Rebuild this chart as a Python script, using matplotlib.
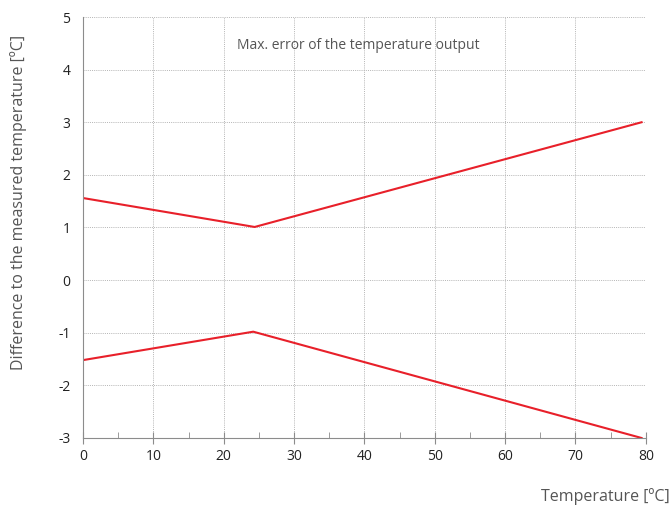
import matplotlib.pyplot as plt
from matplotlib.ticker import MultipleLocator

plt.rcParams['font.family'] = ['Open Sans', 'DejaVu Sans']
plt.rcParams['axes.unicode_minus'] = False

# upper / lower error limit
upper_x = [0, 24.4, 79.4]
upper_y = [1.56, 1.01, 3.0]
lower_x = [0, 24.2, 79.4]
lower_y = [-1.52, -0.98, -3.0]

fig = plt.figure(figsize=(6.72, 5.09), dpi=100)
ax = fig.add_axes([0.1235, 0.1395, 0.8375, 0.8271])

ax.plot(upper_x, upper_y, color='#e8202a', lw=1.5)
ax.plot(lower_x, lower_y, color='#e8202a', lw=1.5)

ax.set_xlim(0, 80)
ax.set_ylim(-3, 5)
ax.xaxis.set_major_locator(MultipleLocator(10))
ax.xaxis.set_minor_locator(MultipleLocator(5))
ax.yaxis.set_major_locator(MultipleLocator(1))

ax.grid(True, which='major', color='#b4b4b4', ls=(0, (1, 1.2)), lw=0.7)
for s in ['top', 'right']:
    ax.spines[s].set_visible(False)
for s in ['left', 'bottom']:
    ax.spines[s].set_color('#8c8c8c')

ax.tick_params(axis='x', which='major', direction='inout', length=8, color='#8c8c8c',
               labelsize=10, labelcolor='#222222', pad=4)
ax.tick_params(axis='x', which='minor', direction='in', length=4, color='#8c8c8c')
ax.tick_params(axis='y', direction='out', length=0, color='#8c8c8c',
               labelsize=10, labelcolor='#222222', pad=9)

ax.text(39.2, 4.45, 'Max. error of the temperature output', ha='center', va='center',
        fontsize=10, color='#555555')

fig.text(0.028, 0.603, 'Difference to the measured temperature [ºC]', rotation=90,
         ha='center', va='center', fontsize=11.5, color='#555555')
fig.text(0.997, 0.025, 'Temperature [ºC]', ha='right', va='center', fontsize=11.5,
         color='#555555')

fig.savefig('out.png', dpi=100)
